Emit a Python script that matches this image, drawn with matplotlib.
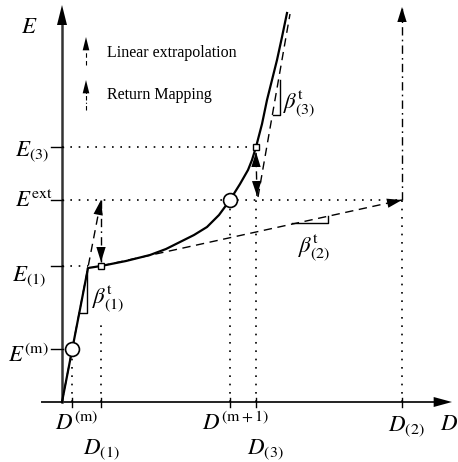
import matplotlib
matplotlib.use("Agg")
import matplotlib.pyplot as plt

plt.rcParams["mathtext.fontset"] = "stix"
plt.rcParams["font.family"] = ["Liberation Serif", "DejaVu Serif"]

# strain levels D and stress levels E (diagram units)
D_m, D_1, D_mp1, D_3, D_2 = 10, 39, 168, 194, 340
E_m, E_1, E_ext, E_3 = 53, 136, 202, 255

# stress-strain curve
curve_D = [0, 26, 39, 64, 88, 104, 118, 132, 145, 157, 168, 178, 186, 190,
           194, 200, 205, 210, 215, 220, 225]
curve_E = [0, 134, 136, 141, 147, 153, 160, 167, 175, 187, 202, 218, 232, 242,
           255, 278, 302, 322, 342, 365, 389]

# extrapolation segments (start D, start E, end D, end E)
extrap = [(0, 0, D_1, E_ext),
          (D_1, E_1, D_2, E_ext),
          (D_3 + 2, E_ext + 3, 228, 388)]

fig = plt.figure(figsize=(4.58, 4.62), dpi=100)
ax = fig.add_axes([0, 0, 1, 1])
ax.set_xlim(-62, 396)
ax.set_ylim(-60, 402)
ax.axis("off")

dotted = (0, (1, 4))
dashed = (0, (6, 4))
dashdot = (0, (6, 3, 1.2, 3))


def head(x0, y0, x1, y1, hl=0.9, hw=0.28):
    # filled arrow head at (x1, y1) pointing away from (x0, y0)
    ax.annotate("", xy=(x1, y1), xytext=(x0, y0),
                arrowprops=dict(arrowstyle=f"-|>,head_length={hl},head_width={hw}",
                                lw=0, fc="k", ec="none", shrinkA=0, shrinkB=0,
                                mutation_scale=12))


def arrow(x0, y0, x1, y1, ls, lw=1.0):
    ax.plot([x0, x1], [y0, y1], color="k", lw=lw, ls=ls, zorder=3)
    f = 0.98
    head(x0 + f * (x1 - x0), y0 + f * (y1 - y0), x1, y1)


# axes with arrows
ax.plot([-20, 380], [0, 0], color="#222", lw=1.4)
head(370, 0, 390, 0, hl=1.1, hw=0.3)
ax.plot([0, 0], [0, 385], color="#333", lw=1.8)
head(0, 380, 0, 397, hl=1.2, hw=0.3)

# ticks
for e in [E_m, E_1, E_ext, E_3]:
    ax.plot([-11, 1], [e, e], color="k", lw=1.0)
for d in [D_m, D_1, D_mp1, D_3, D_2]:
    ax.plot([d, d], [-5, 4], color="k", lw=1.0)

# guide lines
ax.plot([0, D_3], [E_3, E_3], color="k", lw=1.2, ls=dotted)
ax.plot([0, D_2], [E_ext, E_ext], color="k", lw=1.2, ls=dotted)
ax.plot([0, 26], [E_1, E_1], color="k", lw=1.2, ls=dotted)
ax.plot([D_m, D_m], [0, E_m], color="k", lw=1.2, ls=dotted)
ax.plot([D_1, D_1], [0, 77], color="k", lw=1.2, ls=dotted)
for d in [D_mp1, D_3, D_2]:
    ax.plot([d, d], [0, E_ext], color="k", lw=1.2, ls=dotted)

# curve
ax.plot(curve_D, curve_E, color="k", lw=1.6, zorder=4)

# linear extrapolations
for x0, y0, x1, y1 in extrap[:2]:
    arrow(x0, y0, x1, y1, dashed)
ax.plot([extrap[2][0], extrap[2][2]], [extrap[2][1], extrap[2][3]],
        color="k", lw=1.0, ls=dashed)

# return mappings
arrow(D_1, E_ext, D_1, E_1 + 4, dashdot)
arrow(D_2, E_ext, D_2, 395, dashdot)
arrow(D_3, E_3 - 6, D_3 + 1, E_ext + 4, dashdot)
head(D_3, E_3 - 20, D_3, E_3 - 5)

# slope triangles
ax.plot([18, 25, 25], [89, 89, 134], color="k", lw=1.0)
ax.plot([230, 266, 266], [179, 179, 186], color="k", lw=1.0)
ax.plot([211, 218, 218], [287, 287, 322], color="k", lw=1.0)

# state markers
ax.plot([D_m, D_mp1], [E_m, E_ext], "o", ms=10, mfc="white", mec="k", mew=1.2, zorder=5)
ax.plot([D_1, D_3], [E_1, E_3], "s", ms=5, mfc="white", mec="k", mew=1.0, zorder=5)

# legend
ax.plot([24, 24], [337, 357], color="k", lw=0.8, ls=(0, (4, 3)))
head(24, 355, 24, 365, hl=0.8, hw=0.2)
ax.plot([24, 24], [292, 314], color="k", lw=0.8, ls=(0, (4, 2, 1, 2)))
head(24, 312, 24, 322, hl=0.8, hw=0.2)
ax.text(45, 345, "Linear extrapolation", fontsize=11.5, va="baseline")
ax.text(45, 303, "Return Mapping", fontsize=11.5, va="baseline")

# labels
fs = 16.5
labels = [(-41, 369, r"$E$"), (-47, 247, r"$E_{(3)}$"), (-47, 195, r"$E^{\rm ext}$"),
          (-50, 122, r"$E_{(1)}$"), (-54, 40, r"$E^{\rm (m)}$"),
          (-7, -28, r"$D^{\rm (m)}$"), (21, -51, r"$D_{(1)}$"),
          (140, -28, r"$D^{\rm (m+1)}$"), (185, -51, r"$D_{(3)}$"),
          (326, -28, r"$D_{(2)}$"), (378, -28, r"$D$"),
          (30, 99, r"$\beta^{\rm t}_{(1)}$"), (236, 150, r"$\beta^{\rm t}_{(2)}$"),
          (221, 294, r"$\beta^{\rm t}_{(3)}$")]
for x, y, s in labels:
    ax.text(x, y, s, fontsize=fs, ha="left", va="baseline")

fig.savefig("out.png", dpi=100)
